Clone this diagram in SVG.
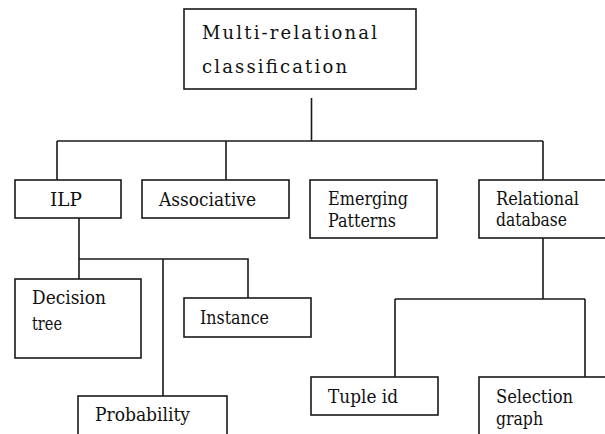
<svg xmlns="http://www.w3.org/2000/svg" width="605" height="434" viewBox="0 0 605 434">
<style>
.box{fill:#fff;stroke:#1a1a1a;stroke-width:1.6}
.ln{fill:none;stroke:#1a1a1a;stroke-width:1.6}
.t{font-family:'DejaVu Serif','Liberation Serif',serif;font-size:18px;fill:#111}
</style>
<rect width="605" height="434" fill="#fff"/>
<g id="connectors">
<path class="ln" d="M311.5,98 V141 M57,141 H543 M57,141 V180 M226,141 V180 M543,141 V180"/>
<path class="ln" d="M79,218 V279 M79,259 H248 V298 M163,259 V396"/>
<path class="ln" d="M543,238 V299 M395,299 H585 M395,299 V377 M585,299 V377"/>
</g>
<g id="root">
<rect class="box" x="184" y="9" width="232" height="80"/>
<text class="t" x="202" y="39" textLength="175" lengthAdjust="spacing">Multi-relational</text>
<text class="t" x="202" y="73" textLength="145" lengthAdjust="spacing">classification</text>
</g>
<g id="ilp">
<rect class="box" x="15" y="180" width="106" height="38"/>
<text class="t" x="50" y="206" textLength="32" lengthAdjust="spacingAndGlyphs">ILP</text>
</g>
<g id="associative">
<rect class="box" x="142" y="180" width="147" height="38"/>
<text class="t" x="159" y="206" textLength="97" lengthAdjust="spacingAndGlyphs">Associative</text>
</g>
<g id="emerging">
<rect class="box" x="310" y="180" width="127" height="58"/>
<text class="t" x="328" y="205" textLength="80" lengthAdjust="spacingAndGlyphs">Emerging</text>
<text class="t" x="328" y="227" textLength="68" lengthAdjust="spacingAndGlyphs">Patterns</text>
</g>
<g id="relational">
<rect class="box" x="479" y="180" width="140" height="58"/>
<text class="t" x="496" y="205" textLength="83" lengthAdjust="spacingAndGlyphs">Relational</text>
<text class="t" x="496" y="226" textLength="71" lengthAdjust="spacingAndGlyphs">database</text>
</g>
<g id="decision">
<rect class="box" x="15" y="279" width="126" height="79"/>
<text class="t" x="32" y="304" textLength="74" lengthAdjust="spacingAndGlyphs">Decision</text>
<text class="t" x="32" y="330" textLength="30" lengthAdjust="spacingAndGlyphs">tree</text>
</g>
<g id="instance">
<rect class="box" x="184" y="298" width="127" height="39"/>
<text class="t" x="200" y="324" textLength="69" lengthAdjust="spacingAndGlyphs">Instance</text>
</g>
<g id="probability">
<rect class="box" x="78" y="396" width="149" height="60"/>
<text class="t" x="95" y="421" textLength="95" lengthAdjust="spacingAndGlyphs">Probability</text>
</g>
<g id="tuple">
<rect class="box" x="311" y="377" width="127" height="38"/>
<text class="t" x="328" y="403" textLength="70" lengthAdjust="spacingAndGlyphs">Tuple id</text>
</g>
<g id="selection">
<rect class="box" x="479" y="377" width="140" height="80"/>
<text class="t" x="496" y="403" textLength="77" lengthAdjust="spacingAndGlyphs">Selection</text>
<text class="t" x="496" y="425" textLength="47" lengthAdjust="spacingAndGlyphs">graph</text>
</g>
</svg>
